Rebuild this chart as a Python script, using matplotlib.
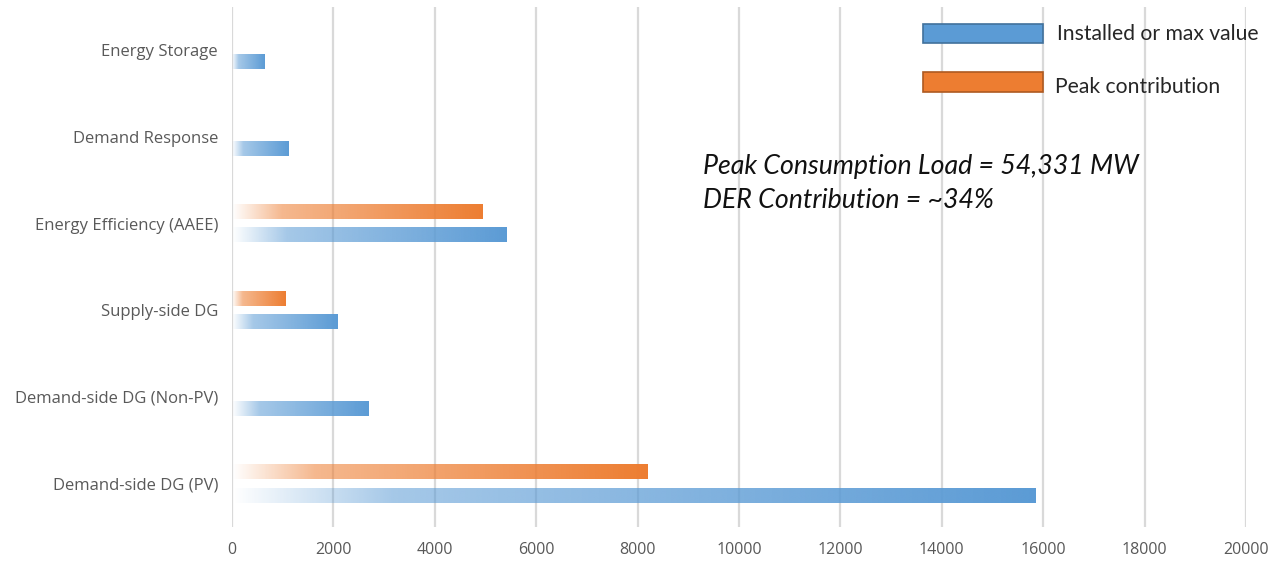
import matplotlib
matplotlib.use('Agg')
import matplotlib.pyplot as plt
import numpy as np
from matplotlib.colors import to_rgb
from matplotlib.patches import Rectangle

# data
categories = ['Demand-side DG (PV)', 'Demand-side DG (Non-PV)', 'Supply-side DG',
              'Energy Efficiency (AAEE)', 'Demand Response', 'Energy Storage']
installed = [15850, 2700, 2090, 5420, 1110, 650]
peak = [8200, 0, 1060, 4950, 0, 0]
xticks = list(range(0, 20001, 2000))

blue = '#5B9BD5'
orange = '#ED7D31'
grid_col = '#D9D9D9'
txt_col = '#595959'


def grad_img(color, n=256):
    # white-to-colour fade, like the excel gradient fill
    t = np.linspace(0, 1, n)
    a = np.interp(t, [0, 0.2, 1], [0.0, 0.55, 1.0])
    rgba = np.zeros((1, n, 4))
    rgba[0, :, :3] = to_rgb(color)
    rgba[0, :, 3] = a
    return rgba


fig = plt.figure(figsize=(12.72, 5.62), dpi=100)
ax = fig.add_axes([0.1824, 0.0623, 0.7972, 0.9253])

y = np.arange(len(categories))
h = 0.165
off = 0.135
for i, v in enumerate(installed):
    if v > 0:
        ax.imshow(grad_img(blue), extent=[0, v, y[i] - off - h / 2, y[i] - off + h / 2],
                  aspect='auto', interpolation='bilinear', zorder=3)
for i, v in enumerate(peak):
    if v > 0:
        ax.imshow(grad_img(orange), extent=[0, v, y[i] + off - h / 2, y[i] + off + h / 2],
                  aspect='auto', interpolation='bilinear', zorder=3)

ax.set_xlim(0, 20000)
ax.set_ylim(-0.5, len(categories) - 0.5)
ax.set_xticks(xticks)
ax.set_yticks(y)
ax.set_yticklabels(categories)
for s in ax.spines.values():
    s.set_visible(False)
ax.xaxis.grid(True, color=grid_col, lw=1.6, zorder=0)
ax.set_axisbelow(True)
ax.tick_params(axis='both', length=0, colors=txt_col)
ax.tick_params(axis='x', pad=11)
ax.tick_params(axis='y', pad=10)
for lab in ax.get_xticklabels():
    lab.set_fontfamily('Open Sans')
    lab.set_fontsize(11.5)
for lab in ax.get_yticklabels():
    lab.set_fontfamily('Open Sans')
    lab.set_fontsize(12)

# legend, drawn by hand
ax.add_patch(Rectangle((0.6815, 0.9308), 0.1183, 0.0365, transform=ax.transAxes,
                       facecolor=blue, edgecolor='#41719C', lw=1.2, clip_on=False, zorder=5))
ax.add_patch(Rectangle((0.6815, 0.8365), 0.1183, 0.0385, transform=ax.transAxes,
                       facecolor=orange, edgecolor='#AE5A21', lw=1.2, clip_on=False, zorder=5))
ax.text(0.8136, 0.948, 'Installed or max value', transform=ax.transAxes, fontsize=15.2,
        family='Lato', color='#262626', va='center', ha='left')
ax.text(0.8116, 0.846, 'Peak contribution', transform=ax.transAxes, fontsize=15.2,
        family='Lato', color='#262626', va='center', ha='left')

ax.text(0.4645, 0.694, 'Peak Consumption Load = 54,331 MW', transform=ax.transAxes,
        fontsize=19.3, family='Lato', style='italic', color='#111111', va='center')
ax.text(0.4645, 0.627, 'DER Contribution = ~34%', transform=ax.transAxes,
        fontsize=19.3, family='Lato', style='italic', color='#111111', va='center')

fig.savefig('out.png', dpi=100, facecolor='white')
